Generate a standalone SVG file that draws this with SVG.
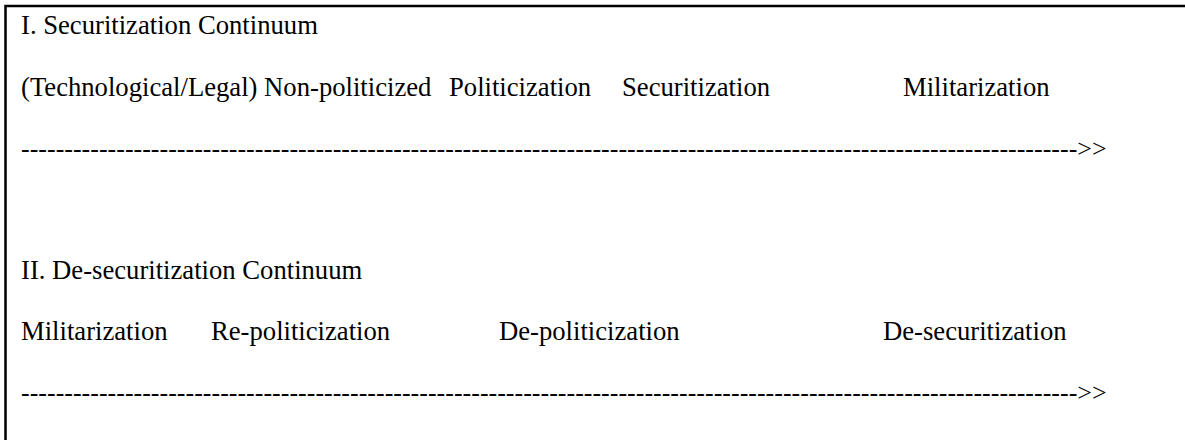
<svg xmlns="http://www.w3.org/2000/svg" width="1185" height="440" viewBox="0 0 1185 440">
<style>
text{font-family:"Liberation Serif","Times New Roman",serif;font-size:26.67px;fill:#000}
text.dash{font-size:26px}
.frame{stroke:#000;stroke-width:2.5;fill:none}
</style>
<rect x="0" y="0" width="1185" height="440" fill="#fff"/>
<g id="frame">
<path class="frame" d="M5.5,440 V6 H1185"/>
</g>
<g id="section1">
<text x="21" y="34">I. Securitization Continuum</text>
<text x="21" y="96">(Technological/Legal) Non-politicized</text>
<text x="449" y="96">Politicization</text>
<text x="622" y="96">Securitization</text>
<text x="903" y="96">Militarization</text>
<text class="dash" x="21" y="157">--------------------------------------------------------------------------------------------------------------------------&gt;&gt;</text>
</g>
<g id="section2">
<text x="21" y="279">II. De-securitization Continuum</text>
<text x="21" y="340">Militarization</text>
<text x="211" y="340">Re-politicization</text>
<text x="499" y="340">De-politicization</text>
<text x="883" y="340">De-securitization</text>
<text class="dash" x="21" y="401">--------------------------------------------------------------------------------------------------------------------------&gt;&gt;</text>
</g>
</svg>
